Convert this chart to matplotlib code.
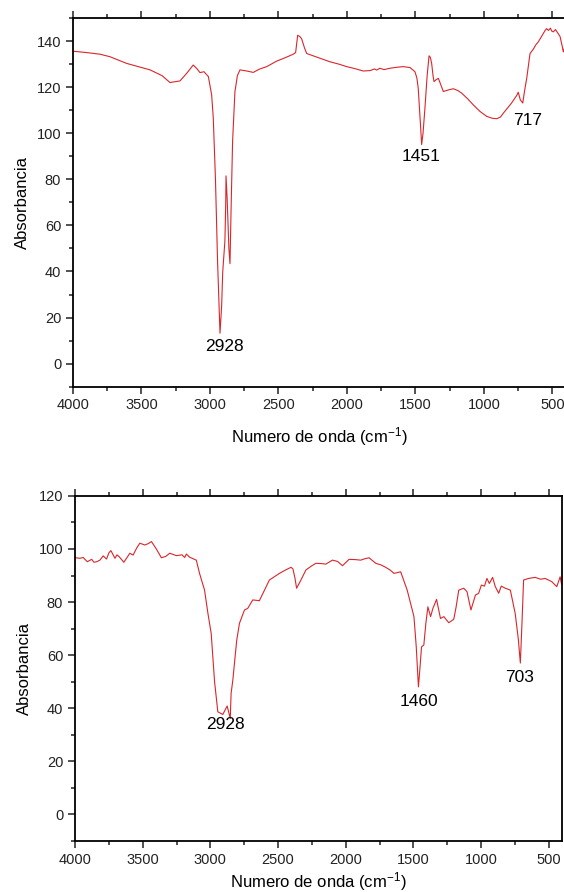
import matplotlib
matplotlib.use("Agg")
import matplotlib.pyplot as plt
from matplotlib.ticker import MultipleLocator

plt.rcParams["font.family"] = ["Liberation Sans", "DejaVu Sans"]
plt.rcParams["mathtext.fontset"] = "custom"
plt.rcParams["mathtext.rm"] = "Liberation Sans"
plt.rcParams["mathtext.it"] = "Liberation Sans:italic"
plt.rcParams["mathtext.bf"] = "Liberation Sans:bold"

# Top spectrum
wn_top = [4000, 3900, 3803, 3730, 3608, 3438, 3350, 3292, 3219, 3170, 3122, 3095,
          3073, 3044, 3012, 2988, 2976, 2960, 2945, 2927, 2915, 2907, 2891, 2885,
          2883, 2875, 2862, 2854, 2845, 2835, 2818, 2800, 2781, 2732, 2684, 2640,
          2586, 2513, 2450, 2392, 2375, 2360, 2345, 2331, 2310, 2294, 2200, 2124,
          2060, 2002, 1940, 1881, 1830, 1800, 1783, 1760, 1730, 1686, 1640, 1589,
          1540, 1504, 1490, 1480, 1465, 1455, 1445, 1431, 1415, 1401, 1392, 1382,
          1372, 1365, 1350, 1333, 1315, 1297, 1260, 1224, 1190, 1163, 1120, 1078,
          1030, 980, 940, 907, 880, 859, 800, 760, 750, 735, 717, 705, 688, 664,
          640, 620, 603, 585, 570, 555, 543, 530, 515, 505, 494, 478, 465, 458,
          445, 430, 421, 410]
ab_top = [135.6, 135.0, 134.3, 133.2, 130.3, 127.5, 125.0, 122.0, 122.7, 126.0, 129.6, 128.0,
          126.3, 126.7, 124.6, 116.7, 106.6, 80.0, 45.0, 13.2, 25.0, 39.8, 53.4, 70.0,
          81.5, 72.0, 50.0, 43.4, 70.0, 96.5, 118.0, 125.0, 127.5, 127.0, 126.4, 127.8,
          128.9, 131.3, 132.8, 134.3, 135.0, 142.5, 142.0, 141.0, 137.0, 134.6, 132.6, 131.0,
          130.0, 128.9, 128.0, 127.0, 127.2, 127.9, 127.4, 128.2, 127.6, 128.2, 128.6, 128.9,
          128.5, 126.7, 124.0, 119.5, 105.0, 95.1, 100.0, 110.9, 125.0, 133.6, 133.0, 130.3,
          125.0, 122.4, 123.2, 123.8, 121.0, 118.1, 118.8, 119.3, 118.5, 117.4, 115.0, 112.3,
          109.5, 107.3, 106.5, 106.3, 107.0, 108.7, 113.0, 116.5, 117.8, 114.5, 113.1, 118.0,
          123.9, 134.6, 136.5, 138.5, 139.7, 141.5, 143.0, 144.5, 145.4, 144.6, 145.6, 144.3,
          144.0, 145.0, 143.8, 143.2, 142.0, 138.0, 135.3, 137.5]

# Bottom spectrum
wn_bot = [4000, 3963, 3940, 3909, 3877, 3860, 3840, 3816, 3792, 3767, 3750, 3735,
          3705, 3690, 3674, 3639, 3595, 3571, 3545, 3521, 3485, 3460, 3435, 3398,
          3362, 3330, 3300, 3251, 3210, 3190, 3177, 3153, 3104, 3080, 3043, 3018,
          2994, 2969, 2945, 2908, 2876, 2853, 2847, 2834, 2820, 2805, 2785, 2748,
          2724, 2687, 2638, 2600, 2564, 2490, 2440, 2404, 2390, 2375, 2363, 2331,
          2294, 2250, 2220, 2180, 2147, 2098, 2060, 2024, 1975, 1930, 1889, 1860,
          1828, 1778, 1740, 1705, 1670, 1644, 1594, 1546, 1496, 1479, 1463, 1452,
          1440, 1423, 1408, 1393, 1373, 1356, 1329, 1300, 1275, 1239, 1202, 1185,
          1165, 1128, 1104, 1075, 1042, 1018, 998, 975, 957, 939, 915, 895,
          870, 851, 821, 784, 748, 725, 710, 698, 686, 649, 600, 560,
          527, 478, 441, 416, 405]
ab_bot = [96.7, 96.5, 96.8, 95.2, 96.1, 95.0, 95.2, 95.8, 97.4, 96.2, 98.5, 99.4,
          96.5, 97.8, 97.1, 95.0, 98.4, 97.7, 100.3, 102.2, 101.5, 102.0, 102.8, 99.9,
          96.7, 97.2, 98.4, 97.5, 97.8, 96.8, 98.1, 96.9, 95.8, 90.8, 84.5, 75.7,
          68.2, 50.0, 38.6, 37.6, 40.8, 36.1, 45.5, 50.6, 58.0, 65.7, 72.0, 77.0,
          77.6, 80.8, 80.5, 84.5, 88.3, 90.8, 92.2, 93.1, 92.5, 89.0, 85.2, 88.3,
          92.1, 93.7, 94.6, 94.5, 94.3, 95.8, 95.3, 93.7, 96.1, 96.0, 95.8, 96.3,
          96.7, 94.6, 94.0, 93.1, 92.0, 90.8, 91.4, 84.5, 74.5, 63.1, 48.0, 55.0,
          63.1, 63.8, 72.0, 78.2, 74.5, 77.6, 81.0, 73.8, 74.5, 72.2, 73.5, 78.0,
          84.5, 85.2, 83.9, 77.0, 82.6, 83.3, 86.4, 86.0, 88.9, 87.0, 89.3, 85.8,
          83.3, 86.0, 85.2, 84.5, 75.7, 66.0, 57.0, 72.0, 88.3, 88.9, 89.3, 88.6,
          88.9, 87.7, 85.8, 89.5, 86.5]

# Peak labels: (text, x, y)
labels_top = [("2928", 2891, 7.3), ("1451", 1463, 90.0), ("717", 684, 105.5)]
labels_bot = [("2928", 2888, 34.0), ("1460", 1459, 42.6), ("703", 718, 51.7)]

line_color = "#d9262b"

fig = plt.figure(figsize=(5.64, 8.92), dpi=100)
ax1 = fig.add_axes([0.1294, 0.5665, 0.8745, 0.4133])
ax2 = fig.add_axes([0.133, 0.0575, 0.864, 0.3865])


def style(ax, ylim, yticks, show_right, xpad):
    ax.set_xlim(4000, 400)
    ax.set_ylim(*ylim)
    ax.set_xticks([4000, 3500, 3000, 2500, 2000, 1500, 1000, 500])
    ax.set_yticks(yticks)
    ax.xaxis.set_minor_locator(MultipleLocator(250))
    ax.yaxis.set_minor_locator(MultipleLocator(10))
    ax.tick_params(which="both", direction="out", top=True, right=False,
                   labelsize=10.5, width=1.1, colors="#222222")
    ax.tick_params(which="major", length=5)
    ax.tick_params(which="minor", length=3)
    for s in ax.spines.values():
        s.set_linewidth(1.3)
    ax.spines["right"].set_visible(show_right)
    ax.set_xlabel("Numero de onda (cm$^{-1}$)", fontsize=12, labelpad=xpad)
    ax.set_ylabel("Absorbancia", fontsize=12, labelpad=5)


ax1.plot(wn_top, ab_top, color=line_color, lw=0.8)
style(ax1, (-10, 150), [0, 20, 40, 60, 80, 100, 120, 140], False, 9)
for t, x, y in labels_top:
    ax1.text(x, y, t, ha="center", va="center", fontsize=12.5)

ax2.plot(wn_bot, ab_bot, color=line_color, lw=0.8)
style(ax2, (-10, 120), [0, 20, 40, 60, 80, 100, 120], True, 2.5)
for t, x, y in labels_bot:
    ax2.text(x, y, t, ha="center", va="center", fontsize=12.5)

fig.savefig("out.png", dpi=100)
